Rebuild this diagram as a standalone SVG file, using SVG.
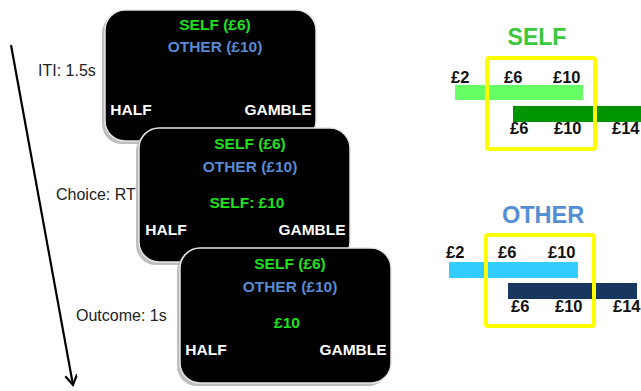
<svg xmlns="http://www.w3.org/2000/svg" width="641" height="391" viewBox="0 0 641 391">
<style>
.card{fill:#000;stroke:#e6e6e6;stroke-width:1.5}
.shadow{fill:#a8a8a8;opacity:0.75}
.t{font-family:"Liberation Sans",Arial,sans-serif;font-weight:bold;font-size:15.5px;text-anchor:middle}
.g{fill:#1fe01f}
.b{fill:#5a8ad2}
.w{fill:#fff}
.lbl{font-family:"Liberation Sans",Arial,sans-serif;font-size:16px;fill:#222}
.num{font-family:"Liberation Sans",Arial,sans-serif;font-weight:bold;font-size:16.5px;fill:#111}
.yb{fill:none;stroke:#ffff00;stroke-width:4}
</style>
<defs>
<marker id="ah" markerWidth="14" markerHeight="14" refX="11" refY="6" orient="auto" markerUnits="userSpaceOnUse">
<path d="M1,0 L11,6 L1,12" fill="none" stroke="#000" stroke-width="2.2"/>
</marker>
</defs>
<rect width="641" height="391" fill="#fff"/>
<g id="connectors">
<line x1="11" y1="45" x2="73" y2="385" stroke="#000" stroke-width="2.2" marker-end="url(#ah)"/>
</g>
<g id="label-iti"><text class="lbl" x="38" y="76">ITI: 1.5s</text></g>
<g id="label-choice"><text class="lbl" x="56" y="200">Choice: RT</text></g>
<g id="label-outcome"><text class="lbl" x="76" y="321">Outcome: 1s</text></g>
<g id="card-iti">
<rect class="shadow" x="102" y="13" width="211" height="131" rx="20"/>
<rect class="card" x="105" y="10" width="211" height="131" rx="20"/>
<text class="t g" x="215" y="30">SELF (£6)</text>
<text class="t b" x="215" y="52">OTHER (£10)</text>
<text class="t w" x="131" y="115">HALF</text>
<text class="t w" x="278" y="115">GAMBLE</text>
</g>
<g id="card-choice">
<rect class="shadow" x="136" y="131" width="211" height="134" rx="20"/>
<rect class="card" x="139" y="128" width="211" height="134" rx="20"/>
<text class="t g" x="250" y="149">SELF (£6)</text>
<text class="t b" x="250" y="172">OTHER (£10)</text>
<text class="t g" x="247" y="208">SELF: £10</text>
<text class="t w" x="166" y="235">HALF</text>
<text class="t w" x="312" y="235">GAMBLE</text>
</g>
<g id="card-outcome">
<rect class="shadow" x="177" y="251" width="211" height="135" rx="20"/>
<rect class="card" x="180" y="248" width="211" height="135" rx="20"/>
<text class="t g" x="290" y="269">SELF (£6)</text>
<text class="t b" x="290" y="292">OTHER (£10)</text>
<text class="t g" x="287" y="328">£10</text>
<text class="t w" x="206" y="355">HALF</text>
<text class="t w" x="353" y="355">GAMBLE</text>
</g>
<g id="self-panel">
<text x="537" y="45" font-family="Liberation Sans,Arial,sans-serif" font-weight="bold" font-size="23" fill="#3cc83c" text-anchor="middle">SELF</text>
<rect x="455" y="85" width="128" height="15" fill="#66ff66"/>
<rect x="513" y="106" width="128" height="16" fill="#009400"/>
<rect class="yb" x="487" y="58" width="108" height="91" rx="2"/>
<text class="num" x="451" y="83">£2</text>
<text class="num" x="504" y="83">£6</text>
<text class="num" x="553" y="83">£10</text>
<text class="num" x="510" y="134">£6</text>
<text class="num" x="554" y="134">£10</text>
<text class="num" x="612" y="134">£14</text>
</g>
<g id="other-panel">
<text x="543" y="223" font-family="Liberation Sans,Arial,sans-serif" font-weight="bold" font-size="23.5" fill="#558ed5" text-anchor="middle">OTHER</text>
<rect x="449" y="262" width="129" height="16" fill="#33ccff"/>
<rect x="508" y="283" width="129" height="16" fill="#17375e"/>
<rect class="yb" x="486" y="235" width="108" height="91" rx="2"/>
<text class="num" x="446" y="258">£2</text>
<text class="num" x="498" y="258">£6</text>
<text class="num" x="548" y="258">£10</text>
<text class="num" x="511" y="312">£6</text>
<text class="num" x="555" y="312">£10</text>
<text class="num" x="613" y="312">£14</text>
</g>
</svg>
